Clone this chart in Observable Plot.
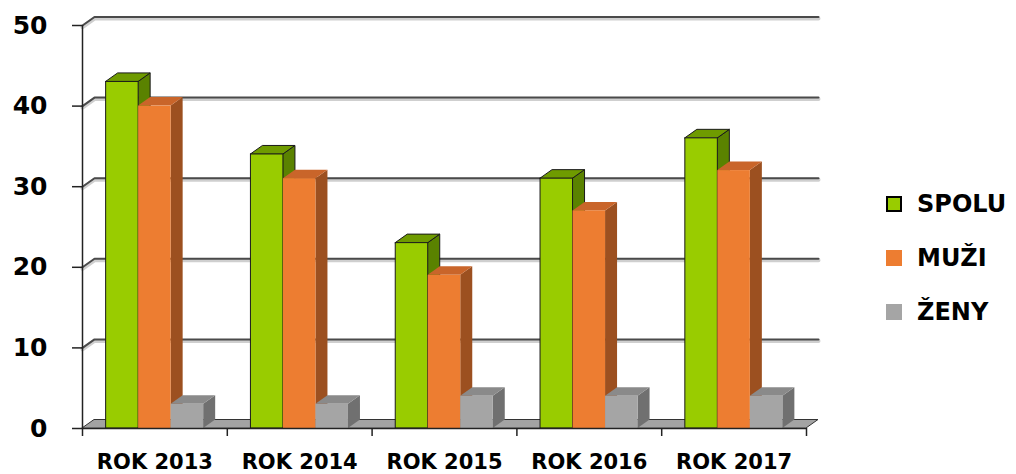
<!DOCTYPE html>
<html>
<head>
<meta charset="utf-8">
<script src="https://cdn.jsdelivr.net/npm/d3@7"></script>
<script src="https://cdn.jsdelivr.net/npm/@observablehq/plot@0.6"></script>
<style>
  html, body { margin: 0; padding: 0; background: #fff; }
  #wrap { position: relative; width: 1016px; height: 474px; overflow: hidden; }
  #legend { position: absolute; left: 886px; top: 189px; font-family: "DejaVu Sans", sans-serif; font-weight: bold; font-size: 24px; color: #000; }
  .row { display: flex; align-items: center; height: 30px; margin-bottom: 24px; }
  .sw { width: 16px; height: 16px; box-sizing: border-box; margin-right: 15px; }
</style>
</head>
<body>
<div id="wrap"><div id="chart"></div><div id="legend"></div></div>
<script>
// ---- data ----
const years = ["ROK 2013", "ROK 2014", "ROK 2015", "ROK 2016", "ROK 2017"];
const seriesNames = ["SPOLU", "MUŽI", "ŽENY"];
const spolu = [43, 34, 23, 31, 36];
const muzi  = [40, 31, 19, 27, 32];
const zeny  = [3, 3, 4, 4, 4];
const yTicks = [0, 10, 20, 30, 40, 50];

// ---- styling ----
const front = ["#99cc00", "#ed7d31", "#a5a5a5"];
const topC  = ["#6f9b00", "#c9652a", "#8a8a8a"];
const sideC = ["#5a8200", "#9c5020", "#707070"];
const edge  = ["#1a1a1a", "none", "none"];

const W = 870, H = 474, ML = 82, MR = 64, MT = 25, MB = 46;
const nCat = years.length, yMax = 50;
const pxX = (W - ML - MR) / nCat, pxY = (H - MT - MB) / yMax;
const DX = 12 / pxX, DY = 8.5 / pxY;          // 3D depth in data units
const outerPad = 0.727;
const slot = 1 / (seriesNames.length + 2 * outerPad);

const values = [spolu, muzi, zeny];
const bars = [];
values.forEach((vals, j) => vals.forEach((v, i) => {
  const x1 = i + (outerPad + j) * slot;
  bars.push({id: `${j}-${i}`, j, year: years[i], series: seriesNames[j], value: v, x1, x2: x1 + slot});
}));

const gridPts = [];
yTicks.slice(1).forEach(v => {
  gridPts.push({z: v, x: 0, y: v}, {z: v, x: DX, y: v + DY}, {z: v, x: nCat + DX, y: v + DY});
});
const floorPts = [{y: 0, x1: 0, x2: nCat}, {y: DY, x1: DX, x2: nCat + DX}];

const marks = [
  Plot.line(gridPts, {x: "x", y: "y", z: "z", stroke: "#cfcfcf", strokeWidth: 4, dy: 1.5}),
  Plot.line(gridPts, {x: "x", y: "y", z: "z", stroke: "#4a4a4a", strokeWidth: 2}),
  Plot.areaX(floorPts, {y: "y", x1: "x1", x2: "x2", fill: "#a3a3a3", stroke: "#333", strokeWidth: 1}),
];

seriesNames.forEach((s, j) => {
  const b = bars.filter(d => d.j === j);
  const side = b.flatMap(d => [
    {id: d.id, x: d.x2, y1: 0, y2: d.value},
    {id: d.id, x: d.x2 + DX, y1: DY, y2: d.value + DY}
  ]);
  const top = b.flatMap(d => [
    {id: d.id, y: d.value, x1: d.x1, x2: d.x2},
    {id: d.id, y: d.value + DY, x1: d.x1 + DX, x2: d.x2 + DX}
  ]);
  marks.push(
    Plot.areaY(side, {x: "x", y1: "y1", y2: "y2", z: "id", fill: sideC[j], stroke: edge[j], strokeWidth: 1}),
    Plot.areaX(top, {y: "y", x1: "x1", x2: "x2", z: "id", fill: topC[j], stroke: edge[j], strokeWidth: 1}),
    Plot.rectY(b, {x1: "x1", x2: "x2", y: "value", fill: front[j], stroke: edge[j], strokeWidth: 1})
  );
});

const bounds = d3.range(nCat + 1);
marks.push(
  Plot.ruleX([0], {y1: 0, y2: yMax, stroke: "#222", strokeWidth: 1.5}),
  Plot.ruleY([0], {x1: 0, x2: nCat, stroke: "#222", strokeWidth: 1.5}),
  Plot.ruleX(bounds, {y1: 0, y2: -8 / pxY, stroke: "#222", strokeWidth: 1.5}),
  Plot.ruleY(yTicks, {x1: -10 / pxX, x2: 0, stroke: "#222", strokeWidth: 1.5}),
  Plot.text(yTicks, {x: 0, y: d => d, dx: -35, textAnchor: "end", fontSize: 25, fontWeight: "bold", fill: "#000"}),
  Plot.text(years, {x: (d, i) => i + 0.5, y: 0, dy: 34, fontSize: 21, fontWeight: "bold", fill: "#000"})
);

const chart = Plot.plot({
  width: W, height: H,
  marginLeft: ML, marginRight: MR, marginTop: MT, marginBottom: MB,
  x: {domain: [0, nCat], axis: null},
  y: {domain: [0, yMax], axis: null},
  style: {fontFamily: "DejaVu Sans", background: "#fff", color: "#000", overflow: "visible"},
  marks
});
document.getElementById("chart").appendChild(chart);

const legend = document.getElementById("legend");
seriesNames.forEach((s, j) => {
  const row = document.createElement("div");
  row.className = "row";
  const sw = document.createElement("div");
  sw.className = "sw";
  sw.style.background = front[j];
  if (j === 0) sw.style.border = "2px solid #000";
  const t = document.createElement("span");
  t.textContent = s;
  row.appendChild(sw); row.appendChild(t);
  legend.appendChild(row);
});
</script>
</body>
</html>
